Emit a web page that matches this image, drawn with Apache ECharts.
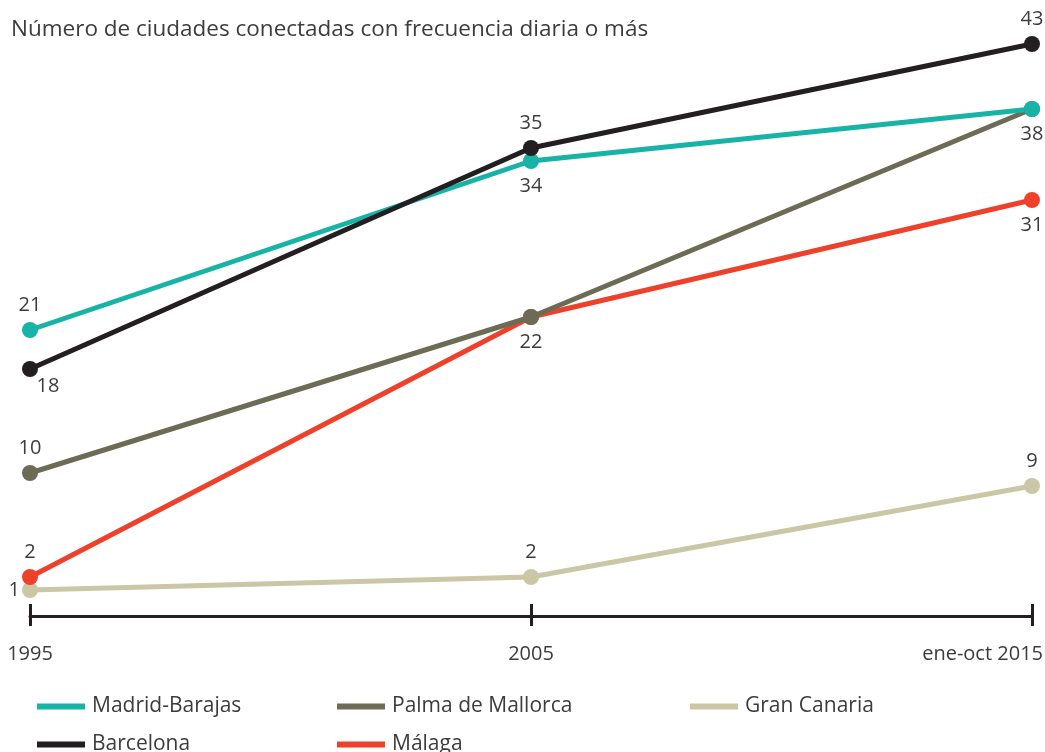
<!DOCTYPE html>
<html>
<head>
<meta charset="utf-8">
<script src="https://cdn.jsdelivr.net/npm/echarts@6/dist/echarts.min.js"></script>
<style>
  html, body { margin: 0; padding: 0; background: #fff; }
  #chart { width: 1045px; height: 752px; }
</style>
</head>
<body>
<div id="chart"></div>
<script>
// datos
const periods = ['1995', '2005', 'ene-oct 2015']
const madrid = [21, 34, 38]
const barcelona = [18, 35, 43]
const palma = [10, 22, 38]
const malaga = [2, 22, 31]
const granCanaria = [1, 2, 9]

const FONT = '"Open Sans", Lato, sans-serif'
const TXT = '#3c3c3c'

// posiciones de etiquetas por punto (null = sin etiqueta)
const labelPos = {
  'Madrid-Barajas': ['top', 'bottom', 'bottom'],
  'Barcelona': ['br', 'top', 'top'],
  'Palma de Mallorca': ['top', null, null],
  'Málaga': ['top', 'bottom', 'bottom'],
  'Gran Canaria': ['left', 'top', 'top']
}

const lines = [
  { name: 'Gran Canaria', color: '#c9c7a5', data: granCanaria },
  { name: 'Málaga', color: '#ee412b', data: malaga },
  { name: 'Palma de Mallorca', color: '#6c6b55', data: palma },
  { name: 'Madrid-Barajas', color: '#18b3a7', data: madrid },
  { name: 'Barcelona', color: '#231f20', data: barcelona }
]

function pointLabel(pos) {
  if (!pos) return { show: false }
  const base = { show: true, fontSize: 20, color: TXT, fontFamily: FONT, distance: 7 }
  if (pos === 'br') return { ...base, position: 'bottom', offset: [18, -2], distance: 1 }
  if (pos === 'left') return { ...base, position: 'left', distance: 2 }
  return { ...base, position: pos }
}

const legendSpots = [
  { name: 'Madrid-Barajas', left: 32, top: 691 },
  { name: 'Palma de Mallorca', left: 332, top: 691 },
  { name: 'Gran Canaria', left: 685, top: 691 },
  { name: 'Barcelona', left: 32, top: 729 },
  { name: 'Málaga', left: 332, top: 729 }
]

const chart = echarts.init(document.getElementById('chart'))

const option = {
  animation: false,
  title: {
    text: 'Número de ciudades conectadas con frecuencia diaria o más',
    left: 6, top: 13,
    textStyle: { fontSize: 22.5, fontWeight: 'normal', color: TXT, fontFamily: FONT }
  },
  legend: legendSpots.map(l => ({
    data: [l.name],
    left: l.left, top: l.top,
    icon: 'rect', itemWidth: 48, itemHeight: 6, itemGap: 12,
    textStyle: { fontSize: 21, color: TXT, fontFamily: FONT, padding: [0, 0, 0, 2] },
    selectedMode: false
  })),
  grid: { left: 30, right: 13, top: 44, bottom: 136, outerBoundsMode: 'none', containLabel: false },
  xAxis: [
    {
      type: 'category', data: periods, boundaryGap: false,
      axisLine: { onZero: false, lineStyle: { color: '#231f20', width: 3 } },
      axisTick: { show: true, inside: true, length: 12, lineStyle: { color: '#231f20', width: 3 } },
      axisLabel: {
        fontSize: 20, color: TXT, fontFamily: FONT, margin: 28,
        alignMaxLabel: 'right',
        formatter: (v, i) => i === 2 ? '{r|' + v + '}' : v,
        rich: { r: { fontSize: 20, color: TXT, fontFamily: FONT, padding: [0, -11, 0, 0] } }
      },
      splitLine: { show: false }
    },
    {
      type: 'category', data: periods, boundaryGap: false, position: 'bottom',
      axisLine: { show: false, onZero: false },
      axisTick: { show: true, length: 10, lineStyle: { color: '#231f20', width: 3 } },
      axisLabel: { show: false },
      splitLine: { show: false }
    }
  ],
  yAxis: { type: 'value', min: -1, max: 43, show: false },
  series: lines.map(l => ({
    name: l.name,
    type: 'line',
    data: l.data.map((v, i) => ({ value: v, label: pointLabel(labelPos[l.name][i]) })),
    symbol: 'circle', symbolSize: 16,
    lineStyle: { color: l.color, width: 5 },
    itemStyle: { color: l.color },
    color: l.color
  }))
}

chart.setOption(option)
</script>
</body>
</html>
